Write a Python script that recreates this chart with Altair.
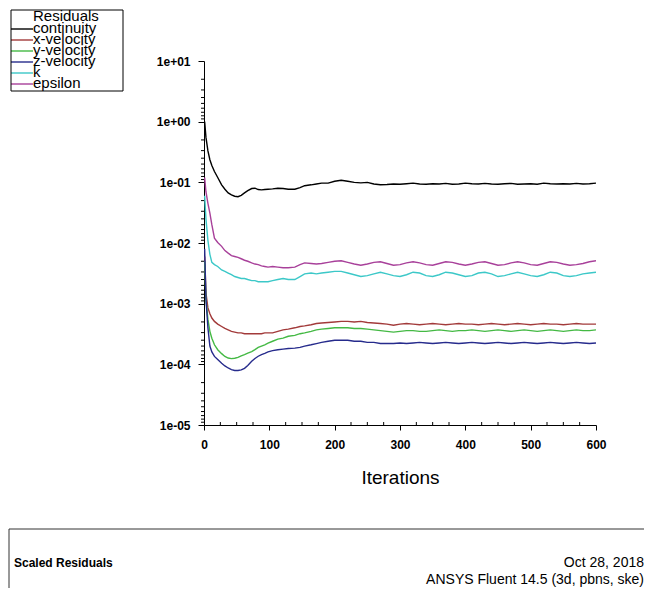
import altair as alt
import pandas as pd

FONT = "Liberation Sans, Arial, sans-serif"

series_names = ["continuity", "x-velocity", "y-velocity", "z-velocity", "k", "epsilon"]
series_colors = ["#000000", "#a23a3a", "#44b944", "#262b8c", "#3cc8c8", "#a8409a"]
legend_rows = [0, 1, 2, 3, 4, 5]

iterations = [1, 3, 6, 9, 12, 16, 21, 27, 32, 37, 42, 47, 52, 57, 62, 67, 73, 78, 83, 88,
              93, 98, 105, 113, 121, 129, 139, 147, 154, 164, 172, 180, 190,
              200, 210, 220, 230, 240, 250, 260, 270, 280, 290, 300, 310, 320, 330, 340,
              350, 360, 370, 380, 390, 400, 410, 420, 430, 440, 450, 460, 470, 480, 490,
              500, 510, 520, 530, 540, 550, 560, 570, 580, 590, 600]

continuity = [1.0, 0.55, 0.33, 0.236, 0.19, 0.151, 0.12, 0.091, 0.077, 0.067, 0.062, 0.059,
              0.058, 0.061, 0.067, 0.073, 0.079, 0.080, 0.076, 0.075, 0.076, 0.077, 0.078,
              0.080, 0.079, 0.077, 0.077, 0.082, 0.088, 0.091, 0.094, 0.097, 0.097,
              0.104, 0.108, 0.104, 0.100, 0.098, 0.100, 0.094, 0.091, 0.092, 0.094,
              0.093, 0.095, 0.097, 0.094, 0.093, 0.095, 0.094, 0.096, 0.093, 0.094,
              0.097, 0.095, 0.094, 0.096, 0.094, 0.093, 0.095, 0.096, 0.093, 0.094,
              0.095, 0.093, 0.097, 0.095, 0.094, 0.095, 0.094, 0.096, 0.094, 0.095, 0.097]

x_velocity = [0.006, 0.0015, 0.00085, 0.00068, 0.00058, 0.00051, 0.00046, 0.00042, 0.00039,
              0.00037, 0.00035, 0.00034, 0.00033, 0.00033, 0.00032, 0.00032, 0.00032, 0.00032,
              0.00032, 0.00032, 0.00033, 0.00033, 0.00033, 0.00035, 0.00037, 0.00038, 0.0004,
              0.00042, 0.00043, 0.00045, 0.00047, 0.00048, 0.00049,
              0.0005, 0.00051, 0.00051, 0.0005, 0.00051, 0.00049, 0.00048, 0.00047, 0.00046, 0.00044,
              0.00046, 0.00047, 0.00046, 0.00045, 0.00046, 0.00047, 0.00046, 0.00045, 0.00046, 0.00047,
              0.00046, 0.00046, 0.00045, 0.00046, 0.00047, 0.00046, 0.00045, 0.00046, 0.00047, 0.00046,
              0.00045, 0.00046, 0.00047, 0.00046, 0.00046, 0.00045, 0.00046, 0.00047, 0.00046, 0.00046,
              0.00046]

y_velocity = [0.005, 0.0012, 0.00055, 0.00035, 0.00027, 0.00021, 0.000174, 0.00015, 0.000135,
              0.000127, 0.000124, 0.000126, 0.00013, 0.000138, 0.000145, 0.000153, 0.000162,
              0.000175, 0.00019, 0.0002, 0.00021, 0.000223, 0.00024, 0.00026, 0.00027, 0.00029,
              0.0003, 0.00032, 0.00033, 0.00035, 0.00037, 0.00038, 0.00039,
              0.0004, 0.0004, 0.0004, 0.00039, 0.00039, 0.00038, 0.00037, 0.00036, 0.00035, 0.00034,
              0.00035, 0.00036, 0.00036, 0.00035, 0.00035, 0.00036, 0.00037, 0.00036, 0.00035, 0.00036,
              0.00036, 0.00037, 0.00036, 0.00035, 0.00036, 0.00037, 0.00036, 0.00035, 0.00036, 0.00037,
              0.00036, 0.00035, 0.00036, 0.00037, 0.00036, 0.00035, 0.00036, 0.00037, 0.00036, 0.00036,
              0.00037]

z_velocity = [0.008, 0.0012, 0.0004, 0.0002, 0.00016, 0.000135, 0.00012, 0.000104, 0.000094,
              0.000087, 0.000082, 0.000079, 0.000079, 0.000081, 0.000086, 0.000096, 0.000112,
              0.000125, 0.000136, 0.000145, 0.000152, 0.00016, 0.000168, 0.000174, 0.000178,
              0.000182, 0.000185, 0.00019, 0.0002, 0.00021, 0.00022, 0.00023, 0.00024,
              0.00025, 0.00025, 0.00025, 0.00024, 0.00024, 0.00023, 0.00023, 0.00022, 0.00022, 0.00022,
              0.000225, 0.00022, 0.000225, 0.00023, 0.000225, 0.00022, 0.000225, 0.00023, 0.000225, 0.00022,
              0.000225, 0.00023, 0.000225, 0.00022, 0.000225, 0.00023, 0.000225, 0.00022, 0.000225, 0.00023,
              0.000225, 0.00022, 0.000225, 0.00023, 0.000225, 0.00022, 0.000225, 0.00023, 0.000225, 0.00022,
              0.000225]

k_values = [0.06, 0.025, 0.011, 0.0065, 0.0048, 0.0044, 0.0041, 0.0036, 0.0034, 0.0032, 0.003,
            0.0028, 0.0027, 0.0026, 0.0026, 0.0025, 0.0024, 0.0024, 0.0023, 0.0023, 0.0023,
            0.0023, 0.0024, 0.0025, 0.0026, 0.0025, 0.0025, 0.0028, 0.0031, 0.0032, 0.0031,
            0.0032, 0.0033,
            0.0034, 0.0034, 0.0032, 0.003, 0.0028, 0.0029, 0.0031, 0.0033, 0.0031, 0.0029,
            0.0028, 0.003, 0.0033, 0.0032, 0.0029, 0.0028, 0.003, 0.0033, 0.0032, 0.003,
            0.0028, 0.0029, 0.0032, 0.0033, 0.0031, 0.0028, 0.0029, 0.0031, 0.0033, 0.0031,
            0.0029, 0.0028, 0.003, 0.0033, 0.0032, 0.0029, 0.0028, 0.0029, 0.0031, 0.0032,
            0.0033]

epsilon = [0.12, 0.07, 0.045, 0.031, 0.02, 0.012, 0.0102, 0.0088, 0.0075, 0.0068, 0.0062,
           0.006, 0.0058, 0.0055, 0.0052, 0.005, 0.0047, 0.0045, 0.0044, 0.0042, 0.0041,
           0.004, 0.0041, 0.004, 0.0039, 0.0039, 0.004, 0.0044, 0.0047, 0.0046, 0.0045,
           0.0046, 0.0048,
           0.005, 0.0051, 0.0048, 0.0045, 0.0043, 0.0045, 0.0048, 0.0049, 0.0046, 0.0043,
           0.0044, 0.0047, 0.0049, 0.0047, 0.0044, 0.0043, 0.0046, 0.0049, 0.0048, 0.0045,
           0.0043, 0.0045, 0.0048, 0.0049, 0.0046, 0.0043, 0.0044, 0.0047, 0.0049, 0.0047,
           0.0044, 0.0043, 0.0046, 0.0049, 0.0048, 0.0045, 0.0043, 0.0044, 0.0046, 0.0049,
           0.0051]

x_major = [0, 100, 200, 300, 400, 500, 600]
x_minor = [25, 50, 75, 125, 150, 175, 225, 250, 275, 325, 350, 375, 425, 450, 475, 525, 550, 575]
y_major = [1e-5, 1e-4, 1e-3, 1e-2, 1e-1, 1e0, 1e1]
y_minor_factors = [10 / 2, 10 / 3, 10 / 4, 10 / 5, 10 / 6, 10 / 7, 10 / 8, 10 / 9]
y_minor = [d * f for d in y_major[:-1] for f in y_minor_factors]

rows = []
for name, vals in zip(series_names, [continuity, x_velocity, y_velocity, z_velocity, k_values, epsilon]):
    for it, v in zip(iterations, vals):
        rows.append({"iteration": it, "residual": v, "series": name})
df = pd.DataFrame(rows)
legend_df = pd.DataFrame({"series": series_names, "row": legend_rows})

W, H = 392, 364
xscale = alt.Scale(domain=[0, 600], nice=False, zero=False)
yscale = alt.Scale(type="log", domain=[1e-5, 10], nice=False)
color_scale = alt.Scale(domain=series_names, range=series_colors)
legend_y = alt.Scale(domain=[0, 5], range=[-32, 23], nice=False, zero=False)

x_axis = alt.Axis(values=x_major, format="d", title="Iterations", tickSize=5,
                  labelPadding=9, labelFlush=False, titleY=58,
                  titleBaseline="alphabetic", titleFontSize=19,
                  titleFontWeight="normal")
y_axis = alt.Axis(values=y_major, title=None, tickSize=6, labelPadding=8,
                  labelExpr="datum.value >= 1 ? '1e+0' + format(round(log(datum.value)/LN10), 'd') : '1e-0' + format(round(-log(datum.value)/LN10), 'd')")

lines = alt.Chart(df).mark_line(strokeWidth=1.4, clip=True).encode(
    x=alt.X("iteration:Q", scale=xscale, axis=x_axis),
    y=alt.Y("residual:Q", scale=yscale, axis=y_axis),
    color=alt.Color("series:N", sort=series_names, scale=color_scale, legend=None),
)

minor_x_layer = alt.Chart(pd.DataFrame({"t": x_minor})).mark_rule(color="black", strokeWidth=1).encode(
    x=alt.X("t:Q", scale=xscale, axis=x_axis),
    y=alt.value(H),
    y2=alt.value(H - 3),
)

minor_y_layer = alt.Chart(pd.DataFrame({"v": y_minor})).mark_rule(color="black", strokeWidth=1).encode(
    y=alt.Y("v:Q", scale=yscale, axis=y_axis),
    x=alt.value(0),
    x2=alt.value(-3),
)

plot = alt.layer(lines, minor_x_layer, minor_y_layer)

legend_lines = alt.Chart(legend_df).mark_rule(strokeWidth=1.4).encode(
    y=alt.Y("row:Q", scale=legend_y, axis=None),
    x=alt.value(-193),
    x2=alt.value(-171),
    color=alt.Color("series:N", sort=series_names, scale=color_scale, legend=None),
)
legend_labels = alt.Chart(legend_df).mark_text(align="left", baseline="middle", font=FONT,
                                               fontSize=15, color="black", dy=-1).encode(
    y=alt.Y("row:Q", scale=legend_y, axis=None),
    x=alt.value(-171),
    text="series:N",
)
legend_layer = alt.layer(legend_lines, legend_labels)

one = pd.DataFrame({"a": [0]})

legend_box = alt.Chart(one).mark_rect(fillOpacity=0, stroke="black", strokeWidth=1).encode(
    x=alt.value(-193), x2=alt.value(-81), y=alt.value(-51), y2=alt.value(30)
)
legend_title = alt.Chart(one).mark_text(align="left", baseline="alphabetic", font=FONT,
                                        fontSize=15, color="black").encode(
    x=alt.value(-171), y=alt.value(-40), text=alt.value("Residuals"))

box_top = alt.Chart(one).mark_rule(color="#333333", strokeWidth=1).encode(
    x=alt.value(-195), x2=alt.value(460), y=alt.value(468)
)
box_left = alt.Chart(one).mark_rule(color="#333333", strokeWidth=1).encode(
    x=alt.value(-195), y=alt.value(468), y2=alt.value(560)
)

t_scaled = alt.Chart(one).mark_text(align="left", baseline="alphabetic", font=FONT,
                                    fontSize=12, fontWeight="bold", color="black").encode(
    x=alt.value(-190), y=alt.value(506), text=alt.value("Scaled Residuals"))
t_date = alt.Chart(one).mark_text(align="right", baseline="alphabetic", font=FONT,
                                  fontSize=14, color="black").encode(
    x=alt.value(440), y=alt.value(506), text=alt.value("Oct 28, 2018"))
t_ansys = alt.Chart(one).mark_text(align="right", baseline="alphabetic", font=FONT,
                                   fontSize=14, color="black").encode(
    x=alt.value(440), y=alt.value(523), text=alt.value("ANSYS Fluent 14.5 (3d, pbns, ske)"))

chart = alt.layer(
    plot, legend_layer, legend_box, legend_title, box_top, box_left,
    t_scaled, t_date, t_ansys
).resolve_scale(y="independent").properties(
    width=W, height=H,
    padding={"left": 196, "top": 53, "right": 48, "bottom": 163},
    autosize=alt.AutoSizeParams(type="none"),
    background="white",
).configure_view(stroke=None).configure_axis(
    grid=False, domainColor="black", tickColor="black", labelColor="black",
    titleColor="black", labelFont=FONT, titleFont=FONT, labelFontSize=12,
    labelFontWeight="bold", domainWidth=1, tickWidth=1,
)

chart.save("out.html", embed_options={"renderer": "svg", "actions": False})
